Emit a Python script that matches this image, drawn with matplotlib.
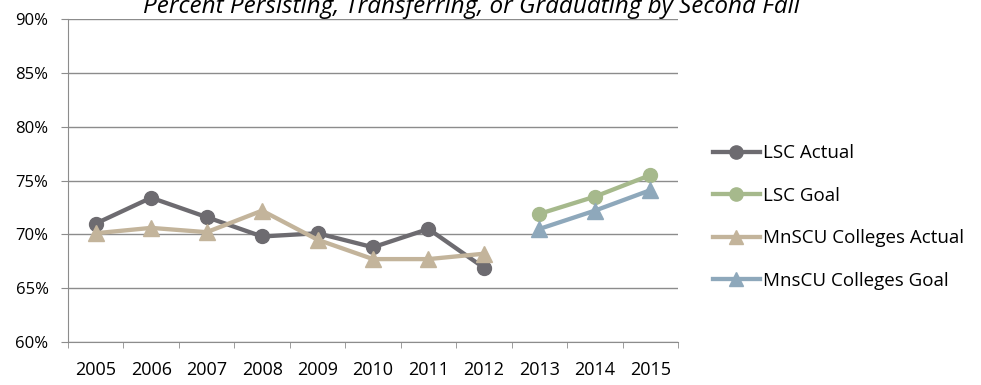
import matplotlib
matplotlib.use('Agg')
import matplotlib.pyplot as plt
import numpy as np

# Persistence / transfer / graduation rates by cohort year
years = ['2005', '2006', '2007', '2008', '2009', '2010', '2011', '2012', '2013', '2014', '2015']
lsc_actual = [71.0, 73.4, 71.6, 69.8, 70.1, 68.8, 70.5, 66.9, None, None, None]
lsc_goal = [None, None, None, None, None, None, None, None, 71.9, 73.5, 75.5]
mnscu_actual = [70.1, 70.6, 70.2, 72.2, 69.5, 67.7, 67.7, 68.2, None, None, None]
mnscu_goal = [None, None, None, None, None, None, None, None, 70.5, 72.2, 74.1]

plt.rcParams['font.family'] = ['Open Sans', 'DejaVu Sans']

fig = plt.figure(figsize=(9.81, 3.85), dpi=100)
ax = fig.add_axes([68/981, 1 - 342/385, 610/981, 323/385])

x = np.arange(len(years))


def to_arr(v):
    return np.array([np.nan if a is None else a for a in v], dtype=float)


series = [
    (lsc_actual, 'LSC Actual', '#6d6b70', 'o', 10),
    (lsc_goal, 'LSC Goal', '#a6b98c', 'o', 10),
    (mnscu_actual, 'MnSCU Colleges Actual', '#c3b49b', '^', 11),
    (mnscu_goal, 'MnsCU Colleges Goal', '#8ea8bb', '^', 11),
]
for vals, name, col, mk, ms in series:
    ax.plot(x, to_arr(vals), color=col, lw=3.1, marker=mk, ms=ms,
            label=name, zorder=3)

ax.set_xlim(-0.5, len(years) - 0.5)
ax.set_ylim(60, 90)
ax.set_yticks(np.arange(60, 91, 5))
ax.set_yticklabels(['%d%%' % v for v in range(60, 91, 5)])
ax.set_xticks(x)
ax.set_xticklabels(years)
ax.set_xticks(np.arange(-0.5, len(years)), minor=True)
ax.tick_params(axis='x', which='major', length=0, pad=14, labelsize=13)
ax.tick_params(axis='x', which='minor', length=4, color='#8c8c8c', direction='out')
ax.tick_params(axis='y', length=5, color='#8c8c8c', labelsize=12, pad=9)
ax.grid(axis='y', color='#8c8c8c', lw=1, zorder=0)
for s in ['top', 'right']:
    ax.spines[s].set_visible(False)
for s in ['left', 'bottom']:
    ax.spines[s].set_color('#8c8c8c')

fig.text(0.4805, 1 - 13/385, 'Percent Persisting, Transferring, or Graduating by Second Fall',
         ha='center', va='baseline', style='italic', fontsize=17.5)

ax.legend(loc='center left', bbox_to_anchor=(713/981, 1 - 217/385),
          bbox_transform=fig.transFigure, frameon=False, fontsize=13.5,
          handlelength=2.5, handletextpad=0.16, labelspacing=1.3,
          borderpad=0, borderaxespad=0, markerscale=0.95)

fig.savefig('out.png', dpi=100)
